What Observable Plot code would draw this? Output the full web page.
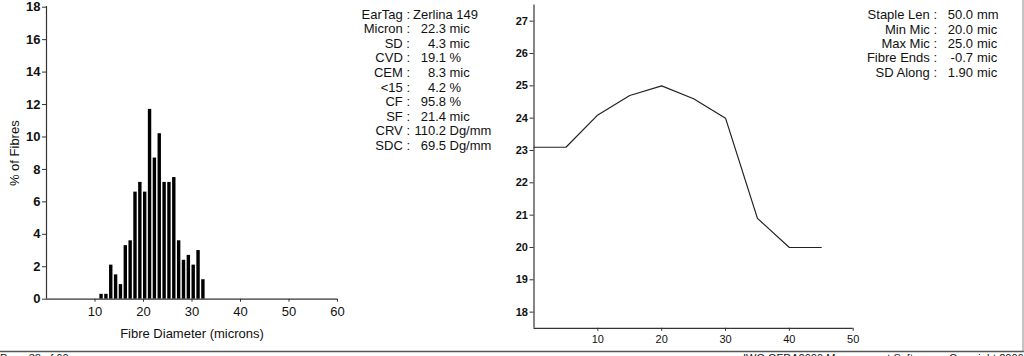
<!DOCTYPE html>
<html>
<head>
<meta charset="utf-8">
<script src="https://cdn.jsdelivr.net/npm/d3@7"></script>
<script src="https://cdn.jsdelivr.net/npm/@observablehq/plot@0.6"></script>
<style>
  html, body { margin: 0; padding: 0; background: #fff; }
  #root { position: relative; width: 1024px; height: 356px; overflow: hidden; font-family: "Liberation Sans", Arial, sans-serif; }
  #root > * { position: absolute; top: 0; }
  #root svg { background: transparent !important; }
</style>
</head>
<body>
<div id="root"></div>
<script>
// Histogram: fibre diameter (microns) vs % of fibres
const diameters = [11,12,13,14,15,16,17,18,19,20,21,22,23,24,25,26,27,28,29,30,31,32];
const percents  = [0.3,0.3,2.1,1.5,0.9,3.3,3.6,6.6,7.2,6.6,11.7,8.7,10.2,7.2,7.2,7.5,3.6,2.4,2.7,2.1,3.0,1.2];
const histYTicks = [0,2,4,6,8,10,12,14,16,18];
const histXTicks = [10,20,30,40,50,60];

// Profile along staple
const positions = [0,5,10,15,20,25,30,35,40,45];
const micron    = [23.1,23.1,24.1,24.7,25.0,24.6,24.0,20.9,20.0,20.0];
const profYTicks = [18,19,20,21,22,23,24,25,26,27];
const profXTicks = [10,20,30,40,50];

// Statistics blocks
const statLabels = ["EarTag :","Micron :","SD :","CVD :","CEM :","<15 :","CF :","SF :","CRV :","SDC :"];
const statNums   = ["","22.3","4.3","19.1","8.3","4.2","95.8","21.4","110.2","69.5"];
const statUnits  = ["Zerlina 149","mic","mic","%","mic","%","%","mic","Dg/mm","Dg/mm"];

const stapleLabels = ["Staple Len :","Min Mic :","Max Mic :","Fibre Ends :","SD Along :"];
const stapleNums   = ["50.0","20.0","25.0","-0.7","1.90"];
const stapleUnits  = ["mm","mic","mic","mic","mic"];

const footerLeft = "Page 38 of 60";
const footerRight = "IWG OFDA2000 Management Software    Copyright 2006";

const FONT = '"Liberation Sans", Arial, sans-serif';
const AXIS = "#333";
const root = document.getElementById("root");

// ---------- Left histogram ----------
const bars = diameters.map((d, i) => ({d, p: percents[i]}));
const hist = Plot.plot({
  width: 350, height: 356,
  marginLeft: 46, marginRight: 13, marginTop: 6.7, marginBottom: 57.3,
  style: {fontFamily: FONT, fontSize: "12px", color: "#111", background: "transparent"},
  x: {domain: [0, 60]},
  y: {domain: [0, 18]},
  marks: [
    Plot.rect(bars, {x1: "d", x2: r => r.d + 0.7, y1: 0, y2: "p", fill: "#000"}),
    Plot.ruleX([0], {y1: 0, y2: 18.05, stroke: AXIS, strokeWidth: 1.2}),
    Plot.ruleY([0], {x1: 0, x2: 60, stroke: AXIS, strokeWidth: 1.2}),
    Plot.axisY({ticks: histYTicks, tickSize: 4, tickPadding: 2, label: null, fontWeight: "bold", fontSize: 13, stroke: AXIS}),
    Plot.axisX({ticks: histXTicks, tickSize: 3, tickPadding: 5, label: null, fontSize: 13, stroke: AXIS}),
    Plot.text(["% of Fibres"], {frameAnchor: "left", textAnchor: "middle", dx: -32, rotate: -90, fontSize: 13, fill: "#111"}),
    Plot.text(["Fibre Diameter (microns)"], {frameAnchor: "bottom", dy: 39, fontSize: 13, fill: "#111"})
  ]
});
hist.style.left = "0px";
root.appendChild(hist);

// ---------- Right profile ----------
const prof = positions.map((x, i) => ({x, m: micron[i]}));
const profile = Plot.plot({
  width: 390, height: 356,
  marginLeft: 53.5, marginRight: 17.3, marginTop: 4.5, marginBottom: 28.2,
  style: {fontFamily: FONT, fontSize: "11px", color: "#111", background: "transparent"},
  x: {domain: [0, 50]},
  y: {domain: [17.5, 27.5]},
  marks: [
    Plot.ruleX([0], {y1: 17.5, y2: 27.5, stroke: AXIS, strokeWidth: 1.2}),
    Plot.ruleY([17.5], {x1: 0, x2: 50, stroke: AXIS, strokeWidth: 1.2}),
    Plot.axisY({ticks: profYTicks, tickSize: 4, tickPadding: 2, label: null, fontWeight: "bold", fontSize: 11, stroke: AXIS}),
    Plot.axisX({ticks: profXTicks, tickSize: 3, tickPadding: 4, label: null, fontSize: 11, stroke: AXIS}),
    Plot.line(prof, {x: "x", y: "m", stroke: "#222", strokeWidth: 1.2})
  ]
});
profile.style.left = "480px";
root.appendChild(profile);

// ---------- Text overlay ----------
const svg = d3.select(root).append("svg")
  .attr("width", 1024).attr("height", 356)
  .style("left", "0px")
  .attr("font-family", FONT).attr("font-size", 13).attr("fill", "#111");

statLabels.forEach((lab, i) => {
  const y = 14 + i * 14.6;
  svg.append("text").attr("x", 410).attr("y", y).attr("dy", "0.35em").attr("text-anchor", "end").text(lab);
  if (statNums[i] === "") {
    svg.append("text").attr("x", 413).attr("y", y).attr("dy", "0.35em").text(statUnits[i]);
  } else {
    svg.append("text").attr("x", 446).attr("y", y).attr("dy", "0.35em").attr("text-anchor", "end").text(statNums[i]);
    svg.append("text").attr("x", 449.5).attr("y", y).attr("dy", "0.35em").text(statUnits[i]);
  }
});

stapleLabels.forEach((lab, i) => {
  const y = 14.7 + i * 14.4;
  svg.append("text").attr("x", 937).attr("y", y).attr("dy", "0.35em").attr("text-anchor", "end").text(lab);
  svg.append("text").attr("x", 973).attr("y", y).attr("dy", "0.35em").attr("text-anchor", "end").text(stapleNums[i]);
  svg.append("text").attr("x", 977).attr("y", y).attr("dy", "0.35em").text(stapleUnits[i]);
});

// page frame lines
svg.append("line").attr("x1", 0).attr("x2", 1024).attr("y1", 351.5).attr("y2", 351.5).attr("stroke", "#555").attr("stroke-width", 1.5);
svg.append("line").attr("x1", 1023).attr("x2", 1023).attr("y1", 0).attr("y2", 351.5).attr("stroke", "#888").attr("stroke-width", 1);

// clipped footer (the reference shows only the top of this line)
svg.append("text").attr("x", 0).attr("y", 362).attr("font-size", 11).text(footerLeft);
svg.append("text").attr("x", 743).attr("y", 362).attr("font-size", 11).attr("xml:space", "preserve").text(footerRight);
</script>
</body>
</html>
